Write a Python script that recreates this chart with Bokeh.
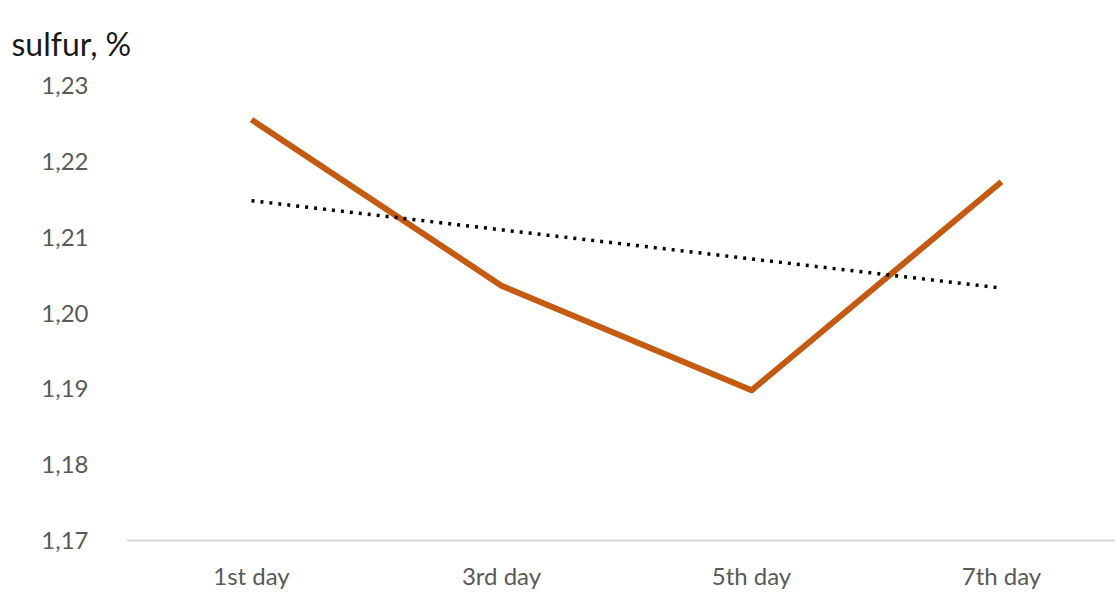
import numpy as np
from bokeh.plotting import figure
from bokeh.models import Range1d, FixedTicker, CustomJSTickFormatter
from bokeh.embed import file_html
from bokeh.resources import INLINE

days = ["1st day", "3rd day", "5th day", "7th day"]
sulfur = [1.2255, 1.2036, 1.1898, 1.2173]
y_ticks = [1.17, 1.18, 1.19, 1.20, 1.21, 1.22, 1.23]

xs = np.arange(len(days)) + 0.5
slope, intercept = np.polyfit(xs, sulfur, 1)
trend = slope * xs + intercept

W, H = 1115, 592
left, top, bottom = 126, 85, 52
px_per_unit = 250.0
x_end = (W - left) / px_per_unit

p = figure(width=W, height=H, output_backend="svg", toolbar_location=None,
           x_range=Range1d(0, x_end), y_range=Range1d(1.17, 1.23),
           min_border_left=left, min_border_right=0, min_border_top=top, min_border_bottom=bottom)
p.outline_line_color = None
p.xgrid.grid_line_color = None
p.ygrid.grid_line_color = None

p.title.text = "sulfur, %"
p.title.text_font = "Lato"
p.title.text_font_size = "32px"
p.title.text_font_style = "normal"
p.title.text_color = "#1a1a1a"
p.title.align = "left"
p.title.vertical_align = "top"
p.title.padding = 0
p.title.offset = -115
p.title.standoff = 42

p.line(xs, sulfur, line_color="#C55A11", line_width=6, line_join="round")
p.line(xs, trend, line_color="#000000", line_width=3.5, line_dash="3 6", line_cap="butt")

p.xaxis.ticker = FixedTicker(ticks=list(xs))
p.xaxis.major_label_overrides = {float(x): d for x, d in zip(xs, days)}
p.xaxis.axis_line_color = "#D9D9D9"
p.xaxis.axis_line_width = 2
p.xaxis.major_tick_line_color = None
p.xaxis.minor_tick_line_color = None
p.xaxis.major_label_standoff = 14
p.xaxis.major_label_text_font = "Lato"
p.xaxis.major_label_text_font_size = "24px"
p.xaxis.major_label_text_color = "#595959"

p.yaxis.ticker = FixedTicker(ticks=y_ticks)
p.yaxis.formatter = CustomJSTickFormatter(code="return tick.toFixed(2).replace('.', ',');")
p.yaxis.axis_line_color = None
p.yaxis.major_tick_line_color = None
p.yaxis.minor_tick_line_color = None
p.yaxis.major_label_standoff = 32
p.yaxis.major_label_text_font = "Lato"
p.yaxis.major_label_text_font_size = "24px"
p.yaxis.major_label_text_color = "#595959"

open("out.html", "w").write(file_html(p, INLINE))
